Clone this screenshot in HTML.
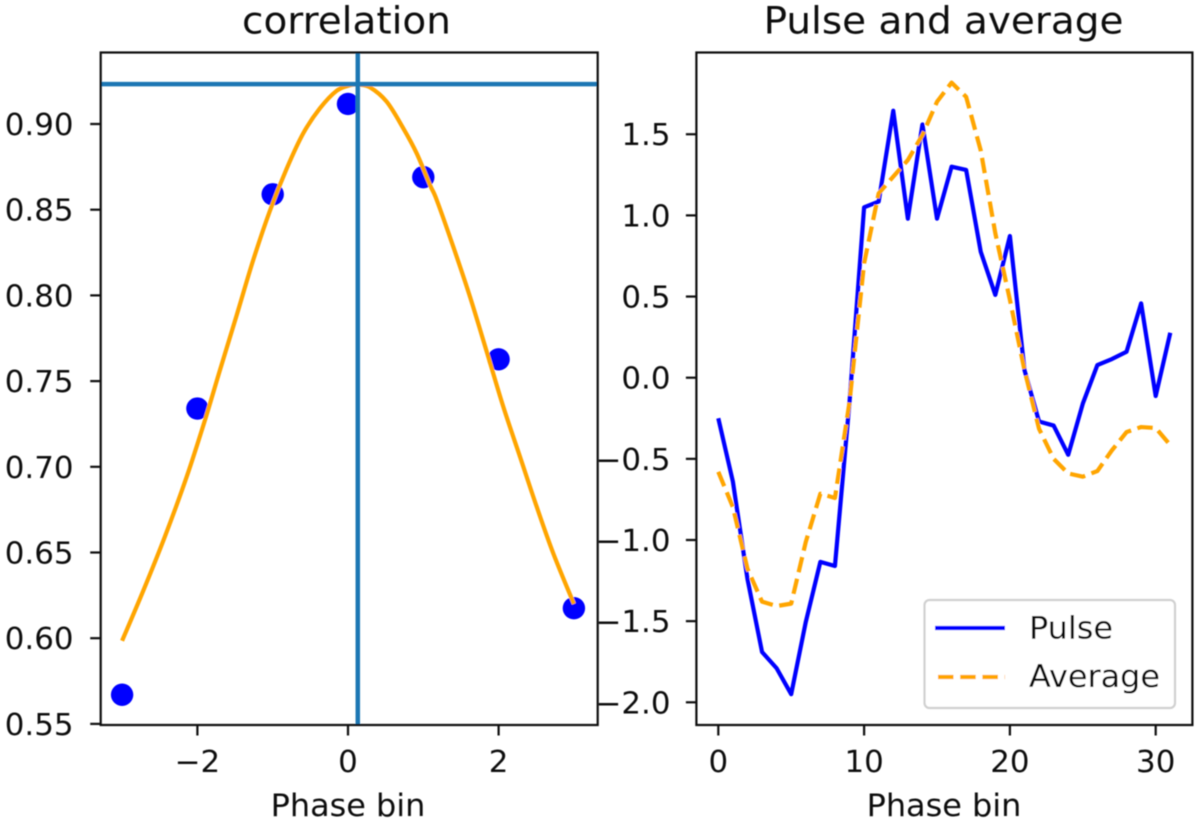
<!DOCTYPE html>
<html>
<head>
<meta charset="utf-8">
<title>Correlation and pulse charts</title>
<style>
  html,body{margin:0;padding:0;background:#fff;}
  svg{display:block;}
  text{font-family:"DejaVu Sans","Liberation Sans",sans-serif;fill:#111;}
</style>
</head>
<body>
<svg id="fig" width="1200" height="824" viewBox="0 0 1200 824" xmlns="http://www.w3.org/2000/svg">
  <defs><filter id="soft" x="-5%" y="-5%" width="110%" height="110%"><feGaussianBlur stdDeviation="0.65"/></filter></defs>
  <rect x="0" y="0" width="1200" height="824" fill="#fff"/>
  <g id="root" filter="url(#soft)">
    <g id="left"></g>
    <g id="right"></g>
  </g>
</svg>
<script>
// --- correlation panel data ---
const corrBins = [-3, -2, -1, 0, 1, 2, 3];
const corrValues = [0.567, 0.734, 0.859, 0.9117, 0.869, 0.7627, 0.6175];
const fitBins = [-3, -2.718, -2.43, -2.142, -1.899, -1.7, -1.478, -1.258, -1.036, -0.814, -0.594, -0.372, -0.15, 0.027, 0.137, 0.292, 0.514, 0.734, 0.912, 1.089, 1.178, 1.398, 1.62, 1.842, 2.062, 2.284, 2.506, 2.726, 3];
const fitValues = [0.5985, 0.6278, 0.6595, 0.6942, 0.7273, 0.7565, 0.7885, 0.8207, 0.8495, 0.874, 0.8946, 0.9092, 0.9194, 0.9226, 0.923, 0.9214, 0.913, 0.8975, 0.8829, 0.8644, 0.8557, 0.8284, 0.7992, 0.7672, 0.7351, 0.7059, 0.6767, 0.6495, 0.62];
const peakBin = [0.13];
const peakValue = [0.9233];
const corrXTicks = [-2, 0, 2];
const corrYTicks = [0.55, 0.6, 0.65, 0.7, 0.75, 0.8, 0.85, 0.9];
const corrYTickLabels = ['0.55', '0.60', '0.65', '0.70', '0.75', '0.80', '0.85', '0.90'];

// --- pulse panel data ---
const phaseBins = [0,1,2,3,4,5,6,7,8,9,10,11,12,13,14,15,16,17,18,19,20,21,22,23,24,25,26,27,28,29,30,31];
const pulseValues = [-0.25,-0.64,-1.24,-1.69,-1.79,-1.95,-1.505,-1.135,-1.16,-0.15,1.05,1.085,1.645,0.98,1.56,0.98,1.3,1.28,0.776,0.51,0.873,0.047,-0.27,-0.295,-0.475,-0.16,0.078,0.115,0.16,0.458,-0.113,0.277];
const averageValues = [-0.58,-0.797,-1.177,-1.38,-1.407,-1.392,-1.012,-0.715,-0.741,-0.15,0.705,1.136,1.239,1.341,1.495,1.7,1.818,1.73,1.4,0.89,0.48,0.047,-0.315,-0.5,-0.59,-0.61,-0.575,-0.447,-0.335,-0.304,-0.31,-0.415];
const pulseXTicks = [0, 10, 20, 30];
const pulseYTicks = [-2, -1.5, -1, -0.5, 0, 0.5, 1, 1.5];
const pulseYTickLabels = ['\u22122.0', '\u22121.5', '\u22121.0', '\u22120.5', '0.0', '0.5', '1.0', '1.5'];

// --- axis functions ---
function xLeft(v){ return 348 + v * 75.3; }
function yLeft(v){ return 124 + (0.9 - v) / 0.05 * 85.7; }
function xRight(v){ return 718.3 + v * 14.58; }
function yRight(v){ return 377.7 - v * 162.3; }

const NS = 'http://www.w3.org/2000/svg';
const STRETCH = 1.03;
function mk(parent, tag, attrs){
  const e = document.createElementNS(NS, tag);
  for (const k in attrs) e.setAttribute(k, attrs[k]);
  parent.appendChild(e);
  return e;
}
function mkText(parent, str, x, y, size, anchor){
  const e = mk(parent, 'text', {
    x: x / STRETCH, y: y, 'font-size': size, 'text-anchor': anchor,
    transform: 'scale(' + STRETCH + ',1)'
  });
  e.textContent = str;
  return e;
}
function poly(xs, ys, fx, fy){
  return xs.map((x, i) => fx(x).toFixed(2) + ',' + fy(ys[i]).toFixed(2)).join(' ');
}
// smooth path through the values (Catmull-Rom)
function smoothPath(xs, ys, fx, fy){
  const p = xs.map((x, i) => [fx(x), fy(ys[i])]);
  let d = 'M' + p[0][0].toFixed(2) + ' ' + p[0][1].toFixed(2);
  for (let i = 0; i < p.length - 1; i++) {
    const a = p[Math.max(i - 1, 0)], b = p[i], c = p[i + 1], e = p[Math.min(i + 2, p.length - 1)];
    d += ' C' + (b[0] + (c[0] - a[0]) / 6).toFixed(2) + ' ' + (b[1] + (c[1] - a[1]) / 6).toFixed(2) +
         ' ' + (c[0] - (e[0] - b[0]) / 6).toFixed(2) + ' ' + (c[1] - (e[1] - b[1]) / 6).toFixed(2) +
         ' ' + c[0].toFixed(2) + ' ' + c[1].toFixed(2);
  }
  return d;
}

const TICK = '#111';
const FS = 30;
const LABEL_FS = 31;
const TITLE_FS = 37.8;
const left = document.getElementById('left');
const right = document.getElementById('right');

// ---------- Left panel ----------
const L = {x0: 100.7, x1: 597.7, y0: 52.5, y1: 725};

corrBins.forEach((b, i) => {
  const dot = mk(left, 'circle', {cx: xLeft(b), cy: yLeft(corrValues[i]), r: 11.2, fill: '#0000ff'});
  
  
});

const fit = mk(left, 'path', {d: smoothPath(fitBins, fitValues, xLeft, yLeft), fill: 'none', stroke: '#ffa500', 'stroke-width': 4.2, 'stroke-linejoin': 'round'});



const vline = mk(left, 'line', {x1: xLeft(peakBin[0]), x2: xLeft(peakBin[0]), y1: L.y0, y2: L.y1, stroke: '#1f77b4', 'stroke-width': 4.5});



const hline = mk(left, 'line', {x1: L.x0, x2: L.x1, y1: yLeft(peakValue[0]), y2: yLeft(peakValue[0]), stroke: '#1f77b4', 'stroke-width': 4.5});



const frameL = mk(left, 'rect', {x: L.x0, y: L.y0, width: L.x1 - L.x0, height: L.y1 - L.y0, fill: 'none', stroke: TICK, 'stroke-width': 2.2});



corrXTicks.forEach(t => {
  const m = mk(left, 'line', {x1: xLeft(t), x2: xLeft(t), y1: L.y1, y2: L.y1 + 10.5, stroke: TICK, 'stroke-width': 2.2});
  
  
  const lb = mkText(left, t < 0 ? '\u2212' + Math.abs(t) : String(t), xLeft(t), 772, FS, 'middle');
  
  
});
corrYTicks.forEach((t, i) => {
  const m = mk(left, 'line', {x1: L.x0 - 10.5, x2: L.x0, y1: yLeft(t), y2: yLeft(t), stroke: TICK, 'stroke-width': 2.2});
  
  
  const lb = mkText(left, corrYTickLabels[i], 73.5, yLeft(t) + 11, FS, 'end');
  
  
});

const titleL = mkText(left, 'correlation', 346.5, 33.5, TITLE_FS, 'middle');


const xLabelL = mkText(left, 'Phase bin', 348, 816, LABEL_FS, 'middle');



// ---------- Right panel ----------
const R = {x0: 696.4, x1: 1192.4, y0: 52.5, y1: 725};

const pulseLine = mk(right, 'polyline', {points: poly(phaseBins, pulseValues, xRight, yRight), fill: 'none', stroke: '#0000ff', 'stroke-width': 4.2, 'stroke-linejoin': 'round'});



const avgLine = mk(right, 'polyline', {points: poly(phaseBins, averageValues, xRight, yRight), fill: 'none', stroke: '#ffa500', 'stroke-width': 4.2, 'stroke-dasharray': '15.5 6.7', 'stroke-linejoin': 'round'});



const frameR = mk(right, 'rect', {x: R.x0, y: R.y0, width: R.x1 - R.x0, height: R.y1 - R.y0, fill: 'none', stroke: TICK, 'stroke-width': 2.2});



pulseXTicks.forEach(t => {
  const m = mk(right, 'line', {x1: xRight(t), x2: xRight(t), y1: R.y1, y2: R.y1 + 10.5, stroke: TICK, 'stroke-width': 2.2});
  
  
  const lb = mkText(right, String(t), xRight(t), 772, FS, 'middle');
  
  
});
pulseYTicks.forEach((t, i) => {
  const m = mk(right, 'line', {x1: R.x0 - 10.5, x2: R.x0, y1: yRight(t), y2: yRight(t), stroke: TICK, 'stroke-width': 2.2});
  
  
  const lb = mkText(right, pulseYTickLabels[i], 670.5, yRight(t) + 11, FS, 'end');
  
  
});

const titleR = mkText(right, 'Pulse and average', 943.5, 33.5, TITLE_FS, 'middle');


const xLabelR = mkText(right, 'Phase bin', 944, 816, LABEL_FS, 'middle');



// ---------- Legend ----------
const legend = mk(right, 'g', {});


const legendBox = mk(legend, 'rect', {x: 924.5, y: 600, width: 250.5, height: 108, rx: 5, ry: 5, fill: '#fff', 'fill-opacity': 0.8, stroke: '#d0d0d0', 'stroke-width': 2.2});


const legSwatchP = mk(legend, 'line', {x1: 935, x2: 1005, y1: 628, y2: 628, stroke: '#0000ff', 'stroke-width': 4.2});


const legTextP = mkText(legend, 'Pulse', 1029, 638.5, LABEL_FS, 'start');


const legSwatchA = mk(legend, 'line', {x1: 938, x2: 1005, y1: 677, y2: 677, stroke: '#ffa500', 'stroke-width': 4.2, 'stroke-dasharray': '15.5 6.7'});


const legTextA = mkText(legend, 'Average', 1029, 687, LABEL_FS, 'start');


</script>
</body>
</html>
